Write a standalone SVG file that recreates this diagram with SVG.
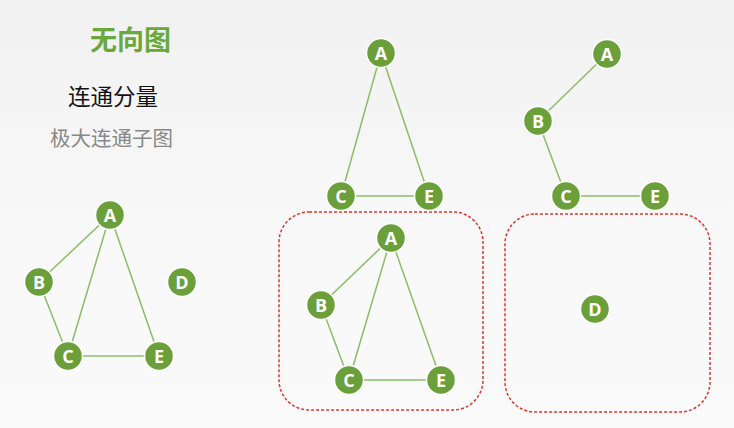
<svg xmlns="http://www.w3.org/2000/svg" width="734" height="428" viewBox="0 0 734 428">
<defs>
<linearGradient id="bg" x1="0" y1="0" x2="0" y2="1">
<stop offset="0" stop-color="#f1f1f1"/>
<stop offset="0.5" stop-color="#f8f8f8"/>
<stop offset="1" stop-color="#fafafa"/>
</linearGradient>
</defs>
<style>
.n circle{fill:#6a9f3a;stroke:#fff;stroke-width:1.5}
.n text{fill:#fff;font-family:"Open Sans","Liberation Sans",sans-serif;font-weight:bold;font-size:18px;text-anchor:middle;dominant-baseline:central}
.e line{stroke:#8cbc68;stroke-width:1.5}
.box{fill:none;stroke:#e0352c;stroke-width:1.5;stroke-dasharray:3 2}
.t{font-family:"Noto Sans CJK SC",sans-serif;dominant-baseline:central}
</style>
<rect width="734" height="428" fill="url(#bg)"/>
<g id="titles">
<text class="t" x="90" y="38" font-size="27" font-weight="bold" fill="#6aa83c">无向图</text>
<text class="t" x="68" y="95" font-size="22.5" fill="#111">连通分量</text>
<text class="t" x="50" y="137" font-size="20.5" fill="#888">极大连通子图</text>
</g>
<g id="boxes">
<rect class="box" x="279" y="212" width="204" height="198" rx="30"/>
<rect class="box" x="505" y="214" width="205" height="198" rx="30"/>
</g>
<g id="connectors" class="e">
<line x1="110" y1="215" x2="39" y2="282"/>
<line x1="110" y1="215" x2="68" y2="356"/>
<line x1="110" y1="215" x2="159" y2="356"/>
<line x1="39" y1="282" x2="68" y2="356"/>
<line x1="68" y1="356" x2="159" y2="356"/>
<line x1="381" y1="53" x2="341" y2="196"/>
<line x1="381" y1="53" x2="429" y2="196"/>
<line x1="341" y1="196" x2="429" y2="196"/>
<line x1="391" y1="238" x2="321" y2="305"/>
<line x1="391" y1="238" x2="349" y2="380"/>
<line x1="391" y1="238" x2="441" y2="380"/>
<line x1="321" y1="305" x2="349" y2="380"/>
<line x1="349" y1="380" x2="441" y2="380"/>
<line x1="607" y1="54" x2="538" y2="121"/>
<line x1="538" y1="121" x2="566" y2="196"/>
<line x1="566" y1="196" x2="655" y2="196"/>
</g>
<g id="g1A" class="n"><circle cx="110" cy="215" r="14.5"/><text x="110" y="215">A</text></g>
<g id="g1B" class="n"><circle cx="39" cy="282" r="14.5"/><text x="39" y="282">B</text></g>
<g id="g1C" class="n"><circle cx="68" cy="356" r="14.5"/><text x="68" y="356">C</text></g>
<g id="g1D" class="n"><circle cx="182" cy="282" r="14.5"/><text x="182" y="282">D</text></g>
<g id="g1E" class="n"><circle cx="159" cy="356" r="14.5"/><text x="159" y="356">E</text></g>
<g id="g2A" class="n"><circle cx="381" cy="53" r="14.5"/><text x="381" y="53">A</text></g>
<g id="g2C" class="n"><circle cx="341" cy="196" r="14.5"/><text x="341" y="196">C</text></g>
<g id="g2E" class="n"><circle cx="429" cy="196" r="14.5"/><text x="429" y="196">E</text></g>
<g id="g3A" class="n"><circle cx="391" cy="238" r="14.5"/><text x="391" y="238">A</text></g>
<g id="g3B" class="n"><circle cx="321" cy="305" r="14.5"/><text x="321" y="305">B</text></g>
<g id="g3C" class="n"><circle cx="349" cy="380" r="14.5"/><text x="349" y="380">C</text></g>
<g id="g3E" class="n"><circle cx="441" cy="380" r="14.5"/><text x="441" y="380">E</text></g>
<g id="g4A" class="n"><circle cx="607" cy="54" r="14.5"/><text x="607" y="54">A</text></g>
<g id="g4B" class="n"><circle cx="538" cy="121" r="14.5"/><text x="538" y="121">B</text></g>
<g id="g4C" class="n"><circle cx="566" cy="196" r="14.5"/><text x="566" y="196">C</text></g>
<g id="g4E" class="n"><circle cx="655" cy="196" r="14.5"/><text x="655" y="196">E</text></g>
<g id="g5D" class="n"><circle cx="595" cy="309" r="14.5"/><text x="595" y="309">D</text></g>
</svg>
